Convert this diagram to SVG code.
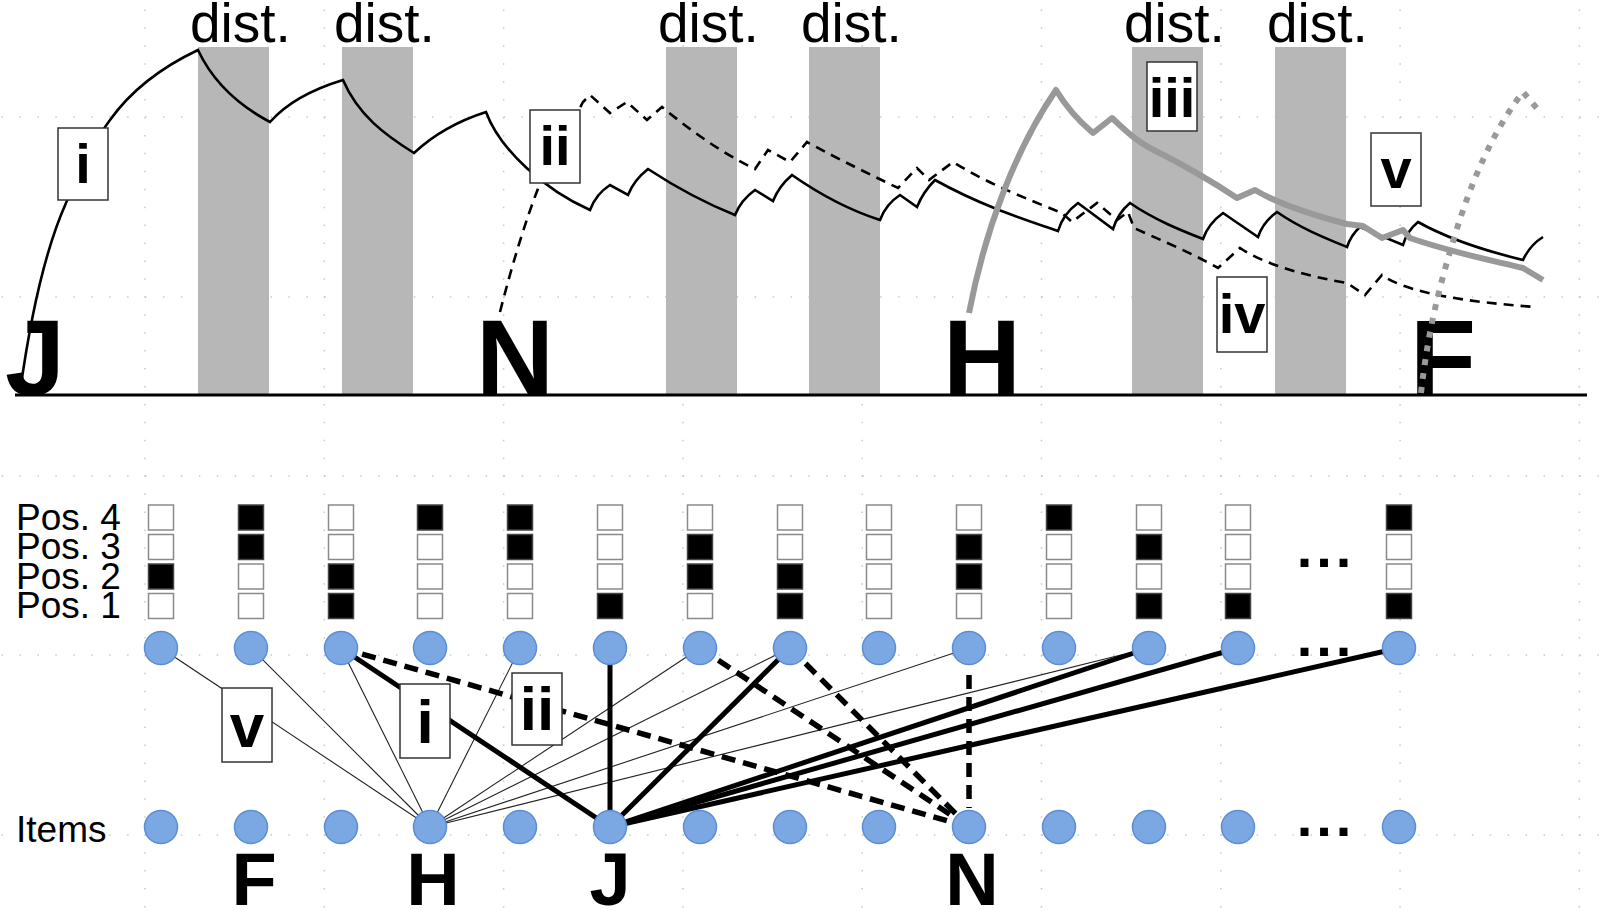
<svg xmlns="http://www.w3.org/2000/svg" width="1600" height="910" viewBox="0 0 1600 910">
<style>
.grid{stroke:#c8c8c8;stroke-width:1.5;stroke-dasharray:1.5 16.43;fill:none}
.band{fill:#b7b7b7}
.dist{font-family:"Liberation Sans",Arial,sans-serif;font-size:55px;fill:#000}
.big{font-family:"Liberation Sans",Arial,sans-serif;font-weight:bold;font-size:108px;fill:#000}
.bigb{font-family:"Liberation Sans",Arial,sans-serif;font-weight:bold;font-size:74px;fill:#000;text-anchor:middle}
.lbl{font-family:"Liberation Sans",Arial,sans-serif;font-size:37px;fill:#000}
.box{fill:#fff;stroke:#333;stroke-width:1.5}
.bt{font-family:"Liberation Sans",Arial,sans-serif;font-weight:bold;font-size:56px;fill:#000;text-anchor:middle}
.bt2{font-family:"Liberation Sans",Arial,sans-serif;font-weight:bold;font-size:62px;fill:#000;text-anchor:middle}
.dots{font-family:"Liberation Sans",Arial,sans-serif;font-weight:bold;font-size:56px;letter-spacing:4px;fill:#000;text-anchor:middle}
.cI{fill:none;stroke:#000;stroke-width:2.6;stroke-linejoin:miter}
.cII{fill:none;stroke:#000;stroke-width:2.6;stroke-dasharray:10 7}
.cIII{fill:none;stroke:#999;stroke-width:6;stroke-linejoin:round}
.cV{fill:none;stroke:#999;stroke-width:6;stroke-dasharray:6 8}
.thin{stroke:#222;stroke-width:1.1}
.thick{stroke:#000;stroke-width:5}
.dash{stroke:#000;stroke-width:5.5;stroke-dasharray:14 8}
.node{fill:#7ba8e2;stroke:#5b8ed4;stroke-width:1.5}
.sq{fill:#fff;stroke:#8a8a8a;stroke-width:1.5}
.sqf{fill:#000;stroke:#444;stroke-width:1.5}
</style>

<g id="grid">
<path class="grid" d="M-34.3,117H1600M-34.3,297H1600M-34.3,476H1600M-34.3,655H1600M-34.3,835H1600"/>
<path class="grid" d="M145,-62.3V910M324.3,-62.3V910M503.6,-62.3V910M682.9,-62.3V910M862.2,-62.3V910M1041.5,-62.3V910M1220.8,-62.3V910M1400.1,-62.3V910M1579.4,-62.3V910"/>
</g>

<g id="chart">
<g id="bands">
<rect class="band" x="198" y="47" width="71" height="348"/>
<rect class="band" x="342" y="47" width="71" height="348"/>
<rect class="band" x="666" y="47" width="71" height="348"/>
<rect class="band" x="809" y="47" width="71" height="348"/>
<rect class="band" x="1132" y="47" width="71" height="348"/>
<rect class="band" x="1275" y="47" width="71" height="348"/>
</g>
<g id="dist-labels">
<text class="dist" x="190" y="42">dist.</text>
<text class="dist" x="334" y="42">dist.</text>
<text class="dist" x="658" y="42">dist.</text>
<text class="dist" x="801" y="42">dist.</text>
<text class="dist" x="1124" y="42">dist.</text>
<text class="dist" x="1267" y="42">dist.</text>
</g>
<line x1="15" y1="395" x2="1587" y2="395" stroke="#000" stroke-width="3"/>
<g id="chart-letters">
<text class="big" x="5" y="395">J</text>
<text class="big" x="476" y="395">N</text>
<text class="big" x="943" y="395">H</text>
<text class="big" x="1410" y="395">F</text>
</g>
<g id="curves">
<path id="curve-i" class="cI" d="M20,392 C30,320 45,250 66,203 C80,170 95,140 110,120 C130,92 160,68 198,50 C212,80 238,105 270,122 C285,105 310,90 343,80 C358,115 385,135 414,153 C430,138 455,122 486,112 C500,150 545,190 590,210 Q596,194 610,185 L628,195 Q634,180 648,169 C680,190 710,205 735,215 Q741,200 755,190 L773,201 Q779,186 792,175 C825,198 855,212 880,220 Q886,204 900,195 L917,207 Q923,192 935,180 C980,205 1020,218 1058,231 Q1063,214 1078,203 L1113,229 Q1118,213 1130,203 C1155,220 1180,230 1203,239 Q1208,224 1223,213 L1258,237 Q1263,222 1277,212 C1300,228 1325,238 1347,247 Q1351,235 1360,227 L1403,245 Q1407,231 1418,222 C1450,240 1490,252 1523,260 Q1530,245 1543,237"/>
<path id="curve-ii" class="cII" d="M500,312 C512,265 525,222 539,186 L583,102 L590,95 L610,113 L627,102 L647,120 L662,107 C690,130 720,152 755,169 L768,150 L790,162 L807,142 C840,160 865,172 898,188 L917,168 L929,180 L953,162 C990,185 1030,200 1062,213 L1072,222 L1097,203 L1117,220 L1128,212 L1134,228 C1160,240 1190,252 1218,268 L1240,248 C1260,262 1300,275 1347,283 L1365,295 L1382,275 C1400,288 1440,300 1535,307"/>
<path id="curve-iii" class="cIII" d="M969,313 C985,230 1015,150 1056,90 C1065,105 1080,122 1093,133 L1112,118 C1125,130 1135,140 1150,148 C1180,163 1210,180 1237,198 L1255,190 C1280,205 1320,217 1347,224 L1363,226 L1382,238 L1403,230 L1410,238 C1450,252 1490,260 1523,268 L1543,280"/>
<path id="curve-v" class="cV" d="M1421,393 C1428,330 1440,285 1452,245 C1468,190 1490,135 1523,92 L1540,112"/>
</g>
<g id="chart-label-i"><rect class="box" x="58" y="128" width="50" height="72"/><text class="bt" x="83" y="183">i</text></g>
<g id="chart-label-ii"><rect class="box" x="530" y="110" width="50" height="73"/><text class="bt" x="555" y="165">ii</text></g>
<g id="chart-label-iii"><rect class="box" x="1147" y="62" width="50" height="69"/><text class="bt" x="1172" y="117">iii</text></g>
<g id="chart-label-iv"><rect class="box" x="1217" y="277" width="50" height="75"/><text class="bt" x="1242" y="333">iv</text></g>
<g id="chart-label-v"><rect class="box" x="1371" y="133" width="50" height="73"/><text class="bt" x="1396" y="188">v</text></g>
</g>

<g id="row-labels">
<text class="lbl" x="16" y="529.5">Pos. 4</text>
<text class="lbl" x="16" y="559">Pos. 3</text>
<text class="lbl" x="16" y="588.5">Pos. 2</text>
<text class="lbl" x="16" y="618">Pos. 1</text>
<text class="lbl" x="16" y="842">Items</text>
</g>

<g id="position-columns">
<g id="col-1"><rect class="sq" x="148.5" y="505" width="25" height="25"/><rect class="sq" x="148.5" y="534.5" width="25" height="25"/><rect class="sqf" x="148.5" y="564" width="25" height="25"/><rect class="sq" x="148.5" y="593.5" width="25" height="25"/></g>
<g id="col-2"><rect class="sqf" x="238.5" y="505" width="25" height="25"/><rect class="sqf" x="238.5" y="534.5" width="25" height="25"/><rect class="sq" x="238.5" y="564" width="25" height="25"/><rect class="sq" x="238.5" y="593.5" width="25" height="25"/></g>
<g id="col-3"><rect class="sq" x="328.5" y="505" width="25" height="25"/><rect class="sq" x="328.5" y="534.5" width="25" height="25"/><rect class="sqf" x="328.5" y="564" width="25" height="25"/><rect class="sqf" x="328.5" y="593.5" width="25" height="25"/></g>
<g id="col-4"><rect class="sqf" x="417.5" y="505" width="25" height="25"/><rect class="sq" x="417.5" y="534.5" width="25" height="25"/><rect class="sq" x="417.5" y="564" width="25" height="25"/><rect class="sq" x="417.5" y="593.5" width="25" height="25"/></g>
<g id="col-5"><rect class="sqf" x="507.5" y="505" width="25" height="25"/><rect class="sqf" x="507.5" y="534.5" width="25" height="25"/><rect class="sq" x="507.5" y="564" width="25" height="25"/><rect class="sq" x="507.5" y="593.5" width="25" height="25"/></g>
<g id="col-6"><rect class="sq" x="597.5" y="505" width="25" height="25"/><rect class="sq" x="597.5" y="534.5" width="25" height="25"/><rect class="sq" x="597.5" y="564" width="25" height="25"/><rect class="sqf" x="597.5" y="593.5" width="25" height="25"/></g>
<g id="col-7"><rect class="sq" x="687.5" y="505" width="25" height="25"/><rect class="sqf" x="687.5" y="534.5" width="25" height="25"/><rect class="sqf" x="687.5" y="564" width="25" height="25"/><rect class="sq" x="687.5" y="593.5" width="25" height="25"/></g>
<g id="col-8"><rect class="sq" x="777.5" y="505" width="25" height="25"/><rect class="sq" x="777.5" y="534.5" width="25" height="25"/><rect class="sqf" x="777.5" y="564" width="25" height="25"/><rect class="sqf" x="777.5" y="593.5" width="25" height="25"/></g>
<g id="col-9"><rect class="sq" x="866.5" y="505" width="25" height="25"/><rect class="sq" x="866.5" y="534.5" width="25" height="25"/><rect class="sq" x="866.5" y="564" width="25" height="25"/><rect class="sq" x="866.5" y="593.5" width="25" height="25"/></g>
<g id="col-10"><rect class="sq" x="956.5" y="505" width="25" height="25"/><rect class="sqf" x="956.5" y="534.5" width="25" height="25"/><rect class="sqf" x="956.5" y="564" width="25" height="25"/><rect class="sq" x="956.5" y="593.5" width="25" height="25"/></g>
<g id="col-11"><rect class="sqf" x="1046.5" y="505" width="25" height="25"/><rect class="sq" x="1046.5" y="534.5" width="25" height="25"/><rect class="sq" x="1046.5" y="564" width="25" height="25"/><rect class="sq" x="1046.5" y="593.5" width="25" height="25"/></g>
<g id="col-12"><rect class="sq" x="1136.5" y="505" width="25" height="25"/><rect class="sqf" x="1136.5" y="534.5" width="25" height="25"/><rect class="sq" x="1136.5" y="564" width="25" height="25"/><rect class="sqf" x="1136.5" y="593.5" width="25" height="25"/></g>
<g id="col-13"><rect class="sq" x="1225.5" y="505" width="25" height="25"/><rect class="sq" x="1225.5" y="534.5" width="25" height="25"/><rect class="sq" x="1225.5" y="564" width="25" height="25"/><rect class="sqf" x="1225.5" y="593.5" width="25" height="25"/></g>
<g id="col-14"><rect class="sqf" x="1386.5" y="505" width="25" height="25"/><rect class="sq" x="1386.5" y="534.5" width="25" height="25"/><rect class="sq" x="1386.5" y="564" width="25" height="25"/><rect class="sqf" x="1386.5" y="593.5" width="25" height="25"/></g>
</g>

<g id="connectors">
<g id="thin-links">
<line class="thin" x1="430" y1="827" x2="161" y2="648"/>
<line class="thin" x1="430" y1="827" x2="251" y2="648"/>
<line class="thin" x1="430" y1="827" x2="341" y2="648"/>
<line class="thin" x1="430" y1="827" x2="520" y2="648"/>
<line class="thin" x1="430" y1="827" x2="700" y2="648"/>
<line class="thin" x1="430" y1="827" x2="790" y2="648"/>
<line class="thin" x1="430" y1="827" x2="969" y2="648"/>
<line class="thin" x1="430" y1="827" x2="1149" y2="648"/>
</g>
<g id="dashed-links">
<line class="dash" x1="341" y1="648" x2="969" y2="827"/>
<line class="dash" x1="700" y1="648" x2="969" y2="827"/>
<line class="dash" x1="790" y1="648" x2="969" y2="827"/>
<line class="dash" x1="969" y1="675" x2="969" y2="808"/>
</g>
<g id="thick-links">
<line class="thick" x1="341" y1="648" x2="610" y2="827"/>
<line class="thick" x1="610" y1="827" x2="610" y2="648"/>
<line class="thick" x1="610" y1="827" x2="790" y2="648"/>
<line class="thick" x1="610" y1="827" x2="1149" y2="648"/>
<line class="thick" x1="610" y1="827" x2="1238" y2="648"/>
<line class="thick" x1="610" y1="827" x2="1399" y2="648"/>
</g>
</g>

<g id="link-label-v"><rect class="box" x="222" y="688" width="50" height="74"/><text class="bt2" x="247" y="747">v</text></g>
<g id="link-label-i"><rect class="box" x="400" y="684" width="50" height="74"/><text class="bt2" x="425" y="743">i</text></g>
<g id="link-label-ii"><rect class="box" x="512" y="673" width="50" height="72"/><text class="bt2" x="537" y="730">ii</text></g>

<g id="top-nodes">
<g id="t1"><circle class="node" cx="161" cy="648" r="16.5"/></g>
<g id="t2"><circle class="node" cx="251" cy="648" r="16.5"/></g>
<g id="t3"><circle class="node" cx="341" cy="648" r="16.5"/></g>
<g id="t4"><circle class="node" cx="430" cy="648" r="16.5"/></g>
<g id="t5"><circle class="node" cx="520" cy="648" r="16.5"/></g>
<g id="t6"><circle class="node" cx="610" cy="648" r="16.5"/></g>
<g id="t7"><circle class="node" cx="700" cy="648" r="16.5"/></g>
<g id="t8"><circle class="node" cx="790" cy="648" r="16.5"/></g>
<g id="t9"><circle class="node" cx="879" cy="648" r="16.5"/></g>
<g id="t10"><circle class="node" cx="969" cy="648" r="16.5"/></g>
<g id="t11"><circle class="node" cx="1059" cy="648" r="16.5"/></g>
<g id="t12"><circle class="node" cx="1149" cy="648" r="16.5"/></g>
<g id="t13"><circle class="node" cx="1238" cy="648" r="16.5"/></g>
<g id="t14"><circle class="node" cx="1399" cy="648" r="16.5"/></g>
</g>

<g id="item-nodes">
<g id="i1"><circle class="node" cx="161" cy="827" r="16.5"/></g>
<g id="i2"><circle class="node" cx="251" cy="827" r="16.5"/></g>
<g id="i3"><circle class="node" cx="341" cy="827" r="16.5"/></g>
<g id="i4"><circle class="node" cx="430" cy="827" r="16.5"/></g>
<g id="i5"><circle class="node" cx="520" cy="827" r="16.5"/></g>
<g id="i6"><circle class="node" cx="610" cy="827" r="16.5"/></g>
<g id="i7"><circle class="node" cx="700" cy="827" r="16.5"/></g>
<g id="i8"><circle class="node" cx="790" cy="827" r="16.5"/></g>
<g id="i9"><circle class="node" cx="879" cy="827" r="16.5"/></g>
<g id="i10"><circle class="node" cx="969" cy="827" r="16.5"/></g>
<g id="i11"><circle class="node" cx="1059" cy="827" r="16.5"/></g>
<g id="i12"><circle class="node" cx="1149" cy="827" r="16.5"/></g>
<g id="i13"><circle class="node" cx="1238" cy="827" r="16.5"/></g>
<g id="i14"><circle class="node" cx="1399" cy="827" r="16.5"/></g>
</g>

<g id="ellipses">
<text class="dots" x="1326" y="567">...</text>
<text class="dots" x="1326" y="656">...</text>
<text class="dots" x="1326" y="836">...</text>
</g>

<g id="item-letters">
<text class="bigb" x="254" y="905">F</text>
<text class="bigb" x="433" y="905">H</text>
<text class="bigb" x="610" y="905">J</text>
<text class="bigb" x="972" y="905">N</text>
</g>
</svg>
